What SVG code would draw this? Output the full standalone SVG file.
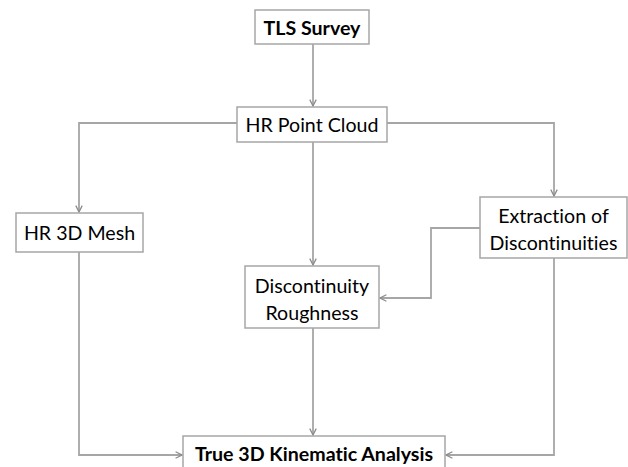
<svg xmlns="http://www.w3.org/2000/svg" width="628" height="467" viewBox="0 0 628 467">
<defs>
<style>
.box{fill:#fff;stroke:#a6a6a6;stroke-width:1.5}
.ln{fill:none;stroke:#a6a6a6;stroke-width:1.8}
.t{font-family:Lato,"Open Sans","Liberation Sans",sans-serif;font-size:19.6px;fill:#000;text-anchor:middle;dominant-baseline:central;font-variant-ligatures:none}
.b{font-weight:bold}
</style>
<marker id="ar" viewBox="0 0 10 10" refX="9" refY="5" markerWidth="8" markerHeight="8" markerUnits="userSpaceOnUse" orient="auto">
<path d="M1,1 L9,5 L1,9" fill="none" stroke="#8c8c8c" stroke-width="1.6"/>
</marker>
</defs>
<rect width="628" height="467" fill="#fff"/>
<g id="connectors">
<path class="ln" d="M313,44 V106" marker-end="url(#ar)"/>
<path class="ln" d="M237,123 H79 V212" marker-end="url(#ar)"/>
<path class="ln" d="M387,123 H554 V196" marker-end="url(#ar)"/>
<path class="ln" d="M313,142 V265" marker-end="url(#ar)"/>
<path class="ln" d="M480,228 H431 V298 H380" marker-end="url(#ar)"/>
<path class="ln" d="M313,328 V435" marker-end="url(#ar)"/>
<path class="ln" d="M79,252 V455 H182" marker-end="url(#ar)"/>
<path class="ln" d="M554,258 V455 H446" marker-end="url(#ar)"/>
</g>
<g id="tls">
<rect class="box" x="255" y="10" width="114" height="34"/>
<text class="t b" x="312" y="27">TLS Survey</text>
</g>
<g id="hrpc">
<rect class="box" x="237" y="107" width="150" height="35"/>
<text class="t" x="312" y="124.5">HR Point Cloud</text>
</g>
<g id="mesh">
<rect class="box" x="16" y="213" width="127" height="39"/>
<text class="t" x="79.5" y="232.5">HR 3D Mesh</text>
</g>
<g id="extraction">
<rect class="box" x="480" y="197" width="147" height="61"/>
<text class="t" x="553.5" y="215">Extraction of</text>
<text class="t" x="553.5" y="242">Discontinuities</text>
</g>
<g id="roughness">
<rect class="box" x="245" y="266" width="134" height="62"/>
<text class="t" x="312" y="285">Discontinuity</text>
<text class="t" x="312" y="312">Roughness</text>
</g>
<g id="kinematic">
<rect class="box" x="183" y="436" width="262" height="34"/>
<text class="t b" x="314" y="453">True 3D Kinematic Analysis</text>
</g>
</svg>
